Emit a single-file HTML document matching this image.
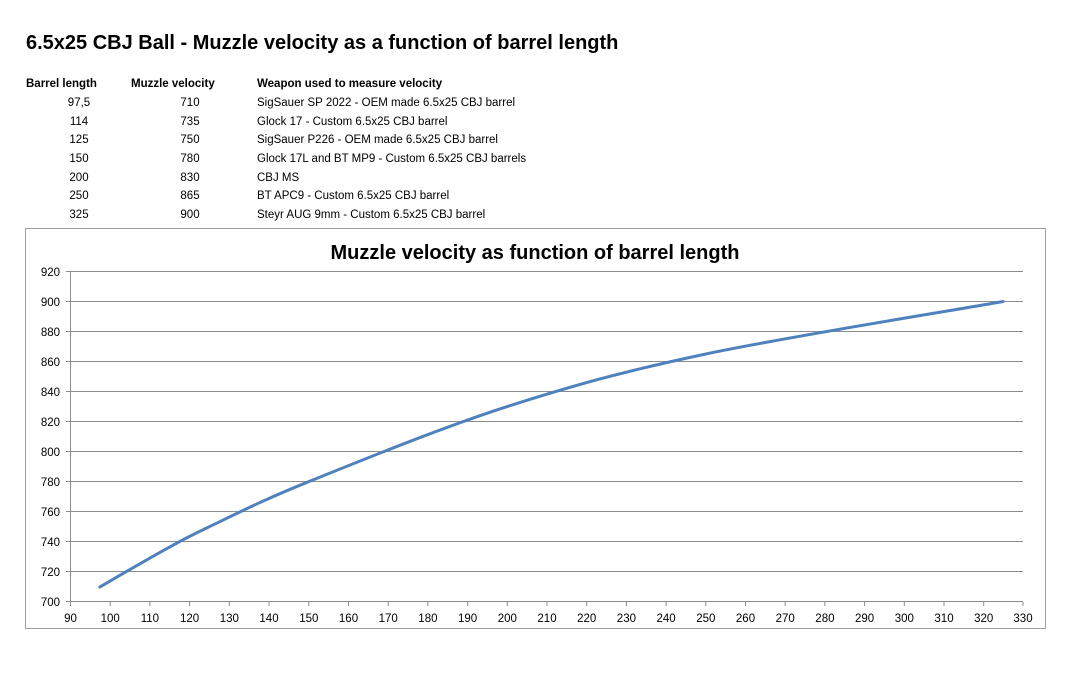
<!DOCTYPE html>
<html><head><meta charset="utf-8"><style>
body{margin:0;background:#fff;width:1080px;height:675px;overflow:hidden;font-family:"Liberation Sans",sans-serif;}
svg{position:absolute;left:0;top:0}
</style></head><body>
<svg width="1080" height="675" viewBox="0 0 1080 675" font-family="Liberation Sans, sans-serif">
<text x="26" y="49" font-size="20" font-weight="bold" fill="#000">6.5x25 CBJ Ball - Muzzle velocity as a function of barrel length</text>
<g font-size="11.5" fill="#000">
<text x="26" y="87" font-weight="bold">Barrel length</text>
<text x="131" y="87" font-weight="bold">Muzzle velocity</text>
<text x="257" y="87" font-weight="bold">Weapon used to measure velocity</text>
<g text-anchor="middle">
<text x="79" y="106">97,5</text><text x="79" y="125">114</text><text x="79" y="143">125</text><text x="79" y="162">150</text><text x="79" y="181">200</text><text x="79" y="199">250</text><text x="79" y="218">325</text>
<text x="190" y="106">710</text><text x="190" y="125">735</text><text x="190" y="143">750</text><text x="190" y="162">780</text><text x="190" y="181">830</text><text x="190" y="199">865</text><text x="190" y="218">900</text>
</g>
<text x="257" y="106">SigSauer SP 2022 - OEM made 6.5x25 CBJ barrel</text>
<text x="257" y="125">Glock 17 - Custom 6.5x25 CBJ barrel</text>
<text x="257" y="143">SigSauer P226 - OEM made 6.5x25 CBJ barrel</text>
<text x="257" y="162">Glock 17L and BT MP9 - Custom 6.5x25 CBJ barrels</text>
<text x="257" y="181">CBJ MS</text>
<text x="257" y="199">BT APC9 - Custom 6.5x25 CBJ barrel</text>
<text x="257" y="218">Steyr AUG 9mm - Custom 6.5x25 CBJ barrel</text>
</g>
<rect x="25.5" y="228.5" width="1020" height="400" fill="#fff" stroke="#a0a0a0" stroke-width="1"/>
<text x="535" y="259" text-anchor="middle" font-size="20" font-weight="bold">Muzzle velocity as function of barrel length</text>
<g stroke="#8c8c8c" stroke-width="1">
<line x1="66" y1="271.5" x2="1023" y2="271.5"/><line x1="66" y1="301.5" x2="1023" y2="301.5"/>
<line x1="66" y1="331.5" x2="1023" y2="331.5"/><line x1="66" y1="361.5" x2="1023" y2="361.5"/>
<line x1="66" y1="391.5" x2="1023" y2="391.5"/><line x1="66" y1="421.5" x2="1023" y2="421.5"/>
<line x1="66" y1="451.5" x2="1023" y2="451.5"/><line x1="66" y1="481.5" x2="1023" y2="481.5"/>
<line x1="66" y1="511.5" x2="1023" y2="511.5"/><line x1="66" y1="541.5" x2="1023" y2="541.5"/>
<line x1="66" y1="571.5" x2="1023" y2="571.5"/><line x1="66" y1="601.5" x2="1023" y2="601.5"/>
<line x1="70.5" y1="271" x2="70.5" y2="602"/>
</g>
<g stroke="#8c8c8c">
<path d="M70.5 602v4M110.2 602v4M149.9 602v4M189.6 602v4M229.3 602v4M269 602v4M308.8 602v4M348.5 602v4M388.2 602v4M427.9 602v4M467.6 602v4M507.3 602v4M547 602v4M586.7 602v4M626.4 602v4M666.1 602v4M705.8 602v4M745.5 602v4M785.2 602v4M824.9 602v4M864.6 602v4M904.3 602v4M944 602v4M983.7 602v4M1023 602v4"/>
</g>
<g font-size="11.5" text-anchor="end" fill="#000">
<text x="60" y="276">920</text><text x="60" y="306">900</text><text x="60" y="336">880</text><text x="60" y="366">860</text><text x="60" y="396">840</text><text x="60" y="426">820</text><text x="60" y="456">800</text><text x="60" y="486">780</text><text x="60" y="516">760</text><text x="60" y="546">740</text><text x="60" y="576">720</text><text x="60" y="606">700</text>
</g>
<g font-size="11.5" text-anchor="middle" fill="#000">
<text x="70.5" y="622">90</text><text x="110.2" y="622">100</text><text x="149.9" y="622">110</text><text x="189.6" y="622">120</text><text x="229.3" y="622">130</text><text x="269" y="622">140</text><text x="308.8" y="622">150</text><text x="348.5" y="622">160</text><text x="388.2" y="622">170</text><text x="427.9" y="622">180</text><text x="467.6" y="622">190</text><text x="507.3" y="622">200</text><text x="547" y="622">210</text><text x="586.7" y="622">220</text><text x="626.4" y="622">230</text><text x="666.1" y="622">240</text><text x="705.8" y="622">250</text><text x="745.5" y="622">260</text><text x="785.2" y="622">270</text><text x="824.9" y="622">280</text><text x="864.6" y="622">290</text><text x="904.3" y="622">300</text><text x="944" y="622">310</text><text x="983.7" y="622">320</text><text x="1023" y="622">330</text>
</g>
<path d="M99.8 587 C110.7 580.7 147.1 559.4 165.3 549.4 C183.5 539.4 185.2 538.2 209 526.9 C232.8 515.6 258.7 501.8 308.3 481.8 C357.9 461.8 440.6 428 506.8 406.7 C573 385.4 622.6 371.6 705.3 354.1 C788 336.6 953.5 310.3 1003.2 301.5" fill="none" stroke="#4f81bd" stroke-width="3" stroke-linecap="round"/>
</svg>
</body></html>
